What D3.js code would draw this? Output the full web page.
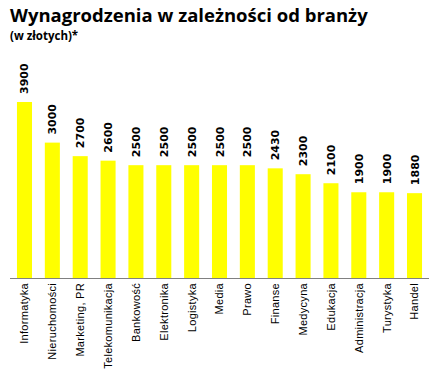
<!DOCTYPE html>
<html>
<head>
<meta charset="utf-8">
<script src="https://cdn.jsdelivr.net/npm/d3@7"></script>
<style>
  body { margin: 0; background: #fff; }
</style>
</head>
<body>
<script>
const categories = ['Informatyka', 'Nieruchomości', 'Marketing, PR', 'Telekomunikacja', 'Bankowość',
  'Elektronika', 'Logistyka', 'Media', 'Prawo', 'Finanse', 'Medycyna', 'Edukacja',
  'Administracja', 'Turystyka', 'Handel'];
const salaries = [3900, 3000, 2700, 2600, 2500, 2500, 2500, 2500, 2500, 2430, 2300, 2100, 1900, 1900, 1880];

const w = 437, h = 379;
const baseY = 278;

const svg = d3.select('body').append('svg')
  .attr('width', w)
  .attr('height', h);

const xScale = d3.scaleBand()
  .domain(categories)
  .range([10, 429])
  .paddingInner(0.46)
  .paddingOuter(0.25);

const yScale = d3.scaleLinear()
  .domain([0, 3900])
  .range([baseY, 102]);

// bars
svg.selectAll('rect.bar')
  .data(salaries)
  .enter()
  .append('rect')
  .attr('class', 'bar')
  .attr('x', (d, i) => xScale(categories[i]))
  .attr('y', d => yScale(d))
  .attr('width', xScale.bandwidth())
  .attr('height', d => baseY - yScale(d))
  .attr('fill', '#ffff00');

// value labels
svg.selectAll('text.val')
  .data(salaries)
  .enter()
  .append('text')
  .attr('class', 'val')
  .attr('transform', (d, i) => 'translate(' + (xScale(categories[i]) + xScale.bandwidth() / 2 + 4) + ',' + (yScale(d) - 8) + ') rotate(-90)')
  .style('font-family', 'DejaVu Sans, sans-serif')
  .style('font-weight', 'bold')
  .style('font-size', '11px')
  .attr('fill', '#000')
  .text(d => d);

// x axis
const xAxis = d3.axisBottom(xScale).tickSize(0).tickPadding(0);
const gx = svg.append('g')
  .attr('transform', 'translate(0,' + baseY + ')')
  .call(xAxis);
gx.select('.domain').attr('stroke', '#808080').attr('d', 'M10,0.5H429');
gx.selectAll('text')
  .attr('transform', 'rotate(-90)')
  .attr('x', -5)
  .attr('y', 0)
  .attr('dy', '0.35em')
  .style('text-anchor', 'end')
  .style('font-family', 'Liberation Sans, Arial, sans-serif')
  .style('font-size', '11px')
  .style('letter-spacing', '0.3px')
  .attr('fill', '#000');

// titles
svg.append('text')
  .attr('x', 10)
  .attr('y', 22)
  .style('font-family', 'Open Sans, sans-serif')
  .style('font-weight', 'bold')
  .style('font-size', '18.5px')
  .attr('fill', '#000')
  .text('Wynagrodzenia w zależności od branży');

svg.append('text')
  .attr('x', 10)
  .attr('y', 40)
  .style('font-family', 'Open Sans, sans-serif')
  .style('font-weight', 'bold')
  .style('font-size', '11.5px')
  .attr('fill', '#000')
  .text('(w złotych)*');
</script>
</body>
</html>
